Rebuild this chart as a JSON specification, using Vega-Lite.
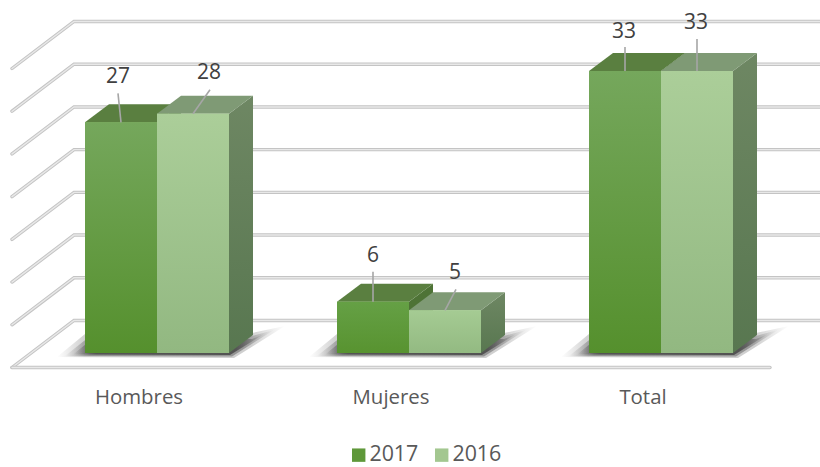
{
  "$schema": "https://vega.github.io/schema/vega-lite/v6.json",
  "width": 820,
  "height": 467,
  "autosize": "none",
  "padding": 0,
  "background": "white",
  "config": {"view": {"stroke": null}, "font": "Open Sans"},
  "datasets": {
    "bars": [
      {"category": "Hombres", "series": "2017", "value": 27},
      {"category": "Hombres", "series": "2016", "value": 28},
      {"category": "Mujeres", "series": "2017", "value": 6},
      {"category": "Mujeres", "series": "2016", "value": 5},
      {"category": "Total", "series": "2017", "value": 33},
      {"category": "Total", "series": "2016", "value": 33}
    ],
    "ticks": [{"tick": 0}, {"tick": 5}, {"tick": 10}, {"tick": 15}, {"tick": 20}, {"tick": 25}, {"tick": 30}, {"tick": 35}],
    "floor": [{"tick": 0}]
  },
  "layer": [
    {
      "data": {"name": "ticks"},
      "mark": {"type": "point", "filled": false, "size": 4, "opacity": 1, "stroke": "#C4C4C4", "strokeWidth": 3.4, "strokeCap": "round", "shape": "M-398,14.5L-336,-32.5L412,-32.5"},
      "encoding": {"y": {"field": "tick", "type": "quantitative", "scale": {"domain": [0, 35], "range": [353, 54]}, "axis": null}}
    },
    {
      "data": {"name": "ticks"},
      "mark": {"type": "point", "filled": false, "size": 4, "opacity": 1, "stroke": "#E8E8E8", "strokeWidth": 1.4, "strokeCap": "round", "shape": "M-398,14.5L-336,-32.5L412,-32.5"},
      "encoding": {"y": {"field": "tick", "type": "quantitative"}}
    },
    {
      "data": {"name": "floor"},
      "mark": {"type": "point", "filled": false, "size": 4, "opacity": 1, "stroke": "#C4C4C4", "strokeWidth": 3.4, "strokeCap": "round", "shape": "M-398,14.5L360,14.5"},
      "encoding": {"y": {"field": "tick", "type": "quantitative"}}
    },
    {
      "data": {"name": "floor"},
      "mark": {"type": "point", "filled": false, "size": 4, "opacity": 1, "stroke": "#E8E8E8", "strokeWidth": 1.4, "strokeCap": "round", "shape": "M-398,14.5L360,14.5"},
      "encoding": {"y": {"field": "tick", "type": "quantitative"}}
    },
    {
      "data": {"name": "bars"},
      "encoding": {
        "x": {
          "field": "category", "type": "nominal", "sort": null,
          "scale": {"range": [31, 787], "paddingInner": 0, "paddingOuter": 0},
          "axis": {"title": null, "domain": false, "ticks": false, "labelAngle": 0, "labelFontSize": 20.4, "labelColor": "#595959", "labelFont": "Open Sans", "labelOffset": -18, "labelPadding": 0, "offset": -80, "grid": false, "zindex": 1}
        },
        "xOffset": {"field": "series", "type": "nominal", "scale": {"domain": ["2017", "2016"], "paddingInner": 0, "paddingOuter": 0.75}},
        "y": {"field": "value", "type": "quantitative"}
      },
      "layer": [
        {
          "transform": [{"filter": "datum.series == '2017'"}],
          "mark": {"type": "point", "filled": true, "size": 4, "opacity": 0.22, "shape": "M-100,4L-72,-19L95,-20L128,-27L77,5Z",
            "fill": {"gradient": "linear", "x1": 0, "y1": 0, "x2": 1, "y2": 0, "stops": [{"offset": 0, "color": "rgba(40,40,40,0)"}, {"offset": 0.12, "color": "rgba(40,40,40,1)"}, {"offset": 0.85, "color": "rgba(40,40,40,1)"}, {"offset": 1, "color": "rgba(40,40,40,0)"}]}},
          "encoding": {"xOffset": null, "y": {"datum": 0, "type": "quantitative"}}
        },
        {
          "transform": [{"filter": "datum.series == '2017'"}],
          "mark": {"type": "point", "filled": true, "size": 4, "opacity": 0.35, "shape": "M-92,3L-68,-16L95,-17L117,-23L75,3.5Z",
            "fill": {"gradient": "linear", "x1": 0, "y1": 0, "x2": 1, "y2": 0, "stops": [{"offset": 0, "color": "rgba(40,40,40,0)"}, {"offset": 0.12, "color": "rgba(40,40,40,1)"}, {"offset": 0.85, "color": "rgba(40,40,40,1)"}, {"offset": 1, "color": "rgba(40,40,40,0)"}]}},
          "encoding": {"xOffset": null, "y": {"datum": 0, "type": "quantitative"}}
        },
        {
          "transform": [{"filter": "datum.series == '2017'"}],
          "mark": {"type": "point", "filled": true, "size": 4, "opacity": 0.6, "shape": "M-84,1.5L-66,-13L95,-14L107,-19L73,2Z",
            "fill": {"gradient": "linear", "x1": 0, "y1": 0, "x2": 1, "y2": 0, "stops": [{"offset": 0, "color": "rgba(40,40,40,0)"}, {"offset": 0.12, "color": "rgba(40,40,40,1)"}, {"offset": 0.85, "color": "rgba(40,40,40,1)"}, {"offset": 1, "color": "rgba(40,40,40,0)"}]}},
          "encoding": {"xOffset": null, "y": {"datum": 0, "type": "quantitative"}}
        },
        {
          "transform": [{"filter": "datum.series == '2017'"}],
          "mark": {"type": "point", "filled": true, "size": 4, "opacity": 1, "fill": "#4E7336",
            "shape": {"expr": "'M36,0L60,-18L60,' + (datum.value * 8.543 - 18) + 'L36,' + (datum.value * 8.543) + 'Z'"}}
        },
        {
          "transform": [{"filter": "datum.series == '2017'"}],
          "mark": {"type": "point", "filled": true, "size": 4, "opacity": 1, "fill": "#5A7F40", "shape": "M-36,0L-12,-18L60,-18L36,0Z"}
        },
        {
          "transform": [{"filter": "datum.series == '2016'"}],
          "mark": {"type": "point", "filled": true, "size": 4, "opacity": 1,
            "fill": {"gradient": "linear", "x1": 0, "y1": 0, "x2": 0, "y2": 1, "stops": [{"offset": 0, "color": "#6E8763"}, {"offset": 1, "color": "#587750"}]},
            "shape": {"expr": "'M36,0L60,-18L60,' + (datum.value * 8.543 - 18) + 'L36,' + (datum.value * 8.543) + 'Z'"}}
        },
        {
          "transform": [{"filter": "datum.series == '2016'"}],
          "mark": {"type": "point", "filled": true, "size": 4, "opacity": 1, "fill": "#7F9A75", "shape": "M-36,0L-12,-18L60,-18L36,0Z"}
        },
        {
          "mark": {"type": "bar"},
          "encoding": {
            "color": {
              "field": "series", "type": "nominal",
              "scale": {"domain": ["2017", "2016"], "range": ["#5F983A", "#A3C790"]},
              "legend": {"title": null, "orient": "none", "legendX": 348, "legendY": 444, "direction": "horizontal", "symbolType": "square", "symbolSize": 180, "symbolStrokeWidth": 0, "labelFontSize": 21.4, "labelColor": "#595959", "labelFont": "Open Sans", "columnPadding": 12, "labelOffset": 0}
            }
          }
        },
        {
          "transform": [{"filter": "datum.category != 'Mujeres'"}],
          "mark": {"type": "bar"},
          "encoding": {
            "fill": {
              "condition": {"test": "datum.series == '2017'", "value": {"gradient": "linear", "x1": 0, "y1": 0, "x2": 0, "y2": 1, "stops": [{"offset": 0, "color": "#75A75C"}, {"offset": 1, "color": "#55902D"}]}},
              "value": {"gradient": "linear", "x1": 0, "y1": 0, "x2": 0, "y2": 1, "stops": [{"offset": 0, "color": "#ABCE99"}, {"offset": 1, "color": "#92B881"}]}
            }
          }
        },
        {
          "transform": [{"filter": "datum.category == 'Mujeres'"}],
          "mark": {"type": "bar"},
          "encoding": {
            "fill": {
              "condition": {"test": "datum.series == '2017'", "value": {"gradient": "linear", "x1": 0, "y1": 0, "x2": 0, "y2": 1, "stops": [{"offset": 0, "color": "#65A045"}, {"offset": 1, "color": "#589330"}]}},
              "value": {"gradient": "linear", "x1": 0, "y1": 0, "x2": 0, "y2": 1, "stops": [{"offset": 0, "color": "#A5CB93"}, {"offset": 1, "color": "#93BA82"}]}
            }
          }
        },
        {
          "mark": {"type": "point", "filled": false, "size": 4, "opacity": 1, "stroke": "#A6A6A6", "strokeWidth": 1.6,
            "shape": {"expr": "{'Hombres2017':'M0,0L-3,-29','Hombres2016':'M0,0L17,-24','Mujeres2017':'M0,0L0,-30','Mujeres2016':'M0,0L11,-21','Total2017':'M0,0L0,-24','Total2016':'M0,0L0,-32'}[datum.category + datum.series]"}}
        },
        {
          "mark": {"type": "text", "fontSize": 21, "font": "Open Sans", "color": "#404040", "baseline": "middle", "align": "center",
            "dx": {"expr": "{'Hombres2017':-3,'Hombres2016':16,'Mujeres2017':0,'Mujeres2016':10,'Total2017':-1,'Total2016':-1}[datum.category + datum.series]"},
            "dy": {"expr": "{'Hombres2017':-45,'Hombres2016':-41,'Mujeres2017':-46,'Mujeres2016':-37,'Total2017':-39,'Total2016':-48}[datum.category + datum.series]"}},
          "encoding": {"text": {"field": "value", "type": "quantitative"}}
        }
      ]
    }
  ]
}
